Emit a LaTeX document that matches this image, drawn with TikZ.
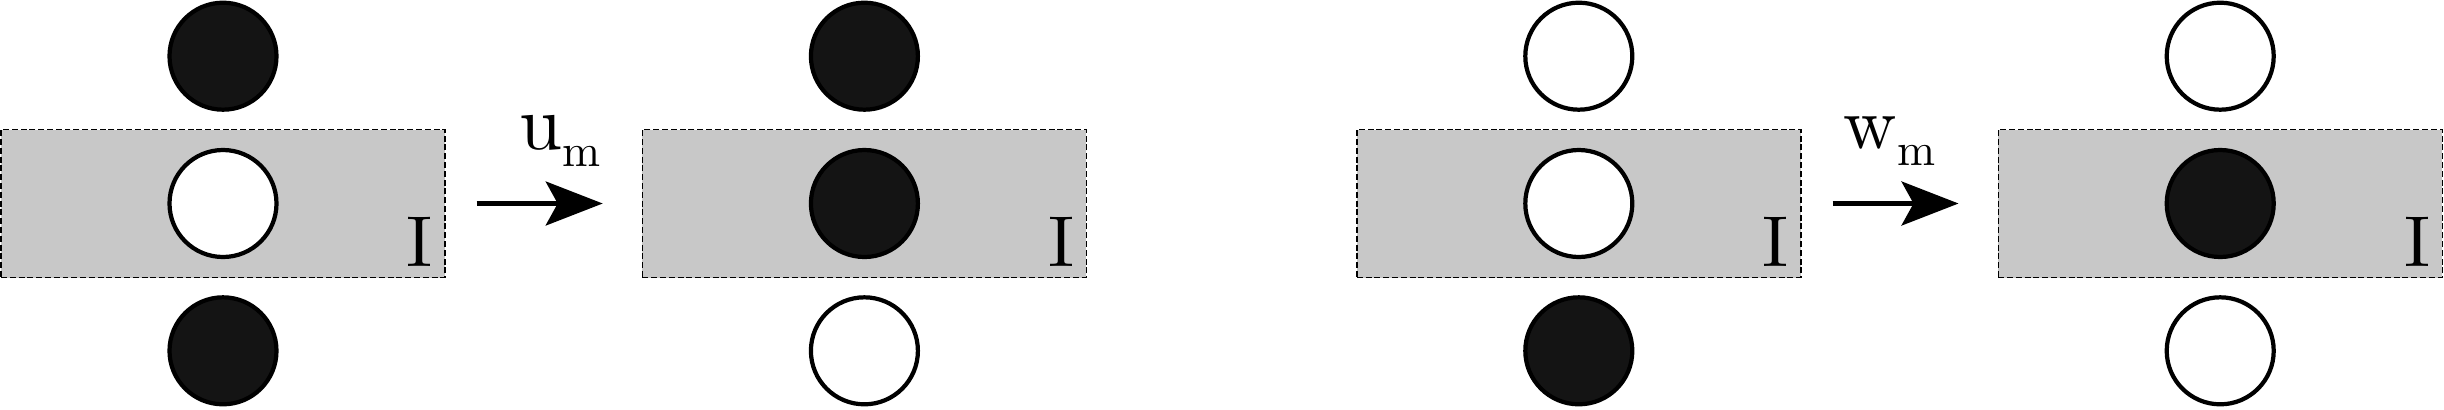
\documentclass[tikz,border=0pt]{standalone}
\usepackage{fontspec}
\usepackage{tikz}
\usetikzlibrary{arrows.meta,positioning}
\newfontfamily\lmten{lmroman10-regular.otf}
\definecolor{cellgray}{gray}{0.785}
\definecolor{balldark}{gray}{0.08}

\begin{document}
\begin{tikzpicture}[
  cell/.style={rectangle, draw, fill=cellgray, line width=0.4pt, dash pattern=on 1.7pt off 0.8pt, minimum width=4.44cm, minimum height=1.48cm, inner sep=0pt},
  ball/.style={circle, draw, line width=1.2pt, minimum size=1.07cm, inner sep=0pt},
  occupied/.style={ball, fill=balldark},
  vacant/.style={ball, fill=white},
  tag/.style={inner sep=0pt, anchor=base east, font=\lmten\fontsize{20.5}{21}\selectfont},
  lbl/.style={inner sep=0pt, anchor=base west, font=\lmten},
  trans/.style={-{Stealth[length=0.57cm, width=0.44cm, inset=0.12cm]}, line width=1.2pt, shorten <=0.31cm, shorten >=0.39cm}
]
\useasboundingbox (0,0) rectangle (24.44,4.09);

% four cells
\node[cell] (c1) at (2.23,2.055) {};
\node[cell, right=1.96cm of c1] (c2) {};
\node[cell, right=2.69cm of c2] (c3) {};
\node[cell, right=1.96cm of c3] (c4) {};

% particles
\node[vacant] (c1m) at (c1) {};
\node[occupied, above=0.17cm of c1] (c1t) {};
\node[occupied, below=0.17cm of c1] (c1b) {};

\node[occupied] (c2m) at (c2) {};
\node[occupied, above=0.17cm of c2] (c2t) {};
\node[vacant, below=0.17cm of c2] (c2b) {};

\node[vacant] (c3m) at (c3) {};
\node[vacant, above=0.17cm of c3] (c3t) {};
\node[occupied, below=0.17cm of c3] (c3b) {};

\node[occupied] (c4m) at (c4) {};
\node[vacant, above=0.17cm of c4] (c4t) {};
\node[vacant, below=0.17cm of c4] (c4b) {};

% cell labels
\node[tag] (i1) at ([xshift=-0.12cm, yshift=0.12cm]c1.south east) {I};
\node[tag] (i2) at ([xshift=-0.12cm, yshift=0.12cm]c2.south east) {I};
\node[tag] (i3) at ([xshift=-0.12cm, yshift=0.12cm]c3.south east) {I};
\node[tag] (i4) at ([xshift=-0.12cm, yshift=0.12cm]c4.south east) {I};

% transitions
\draw[trans] (c1) -- (c2);
\draw[trans] (c3) -- (c4);

\node[lbl] (um) at (5.19,2.60) {{\fontsize{22}{22}\selectfont u}\raisebox{-5pt}{\fontsize{13}{13}\selectfont m}};
\node[lbl] (wm) at (18.43,2.61) {{\fontsize{21}{21}\selectfont w}\raisebox{-5pt}{\fontsize{13}{13}\selectfont m}};

\end{tikzpicture}
\end{document}
